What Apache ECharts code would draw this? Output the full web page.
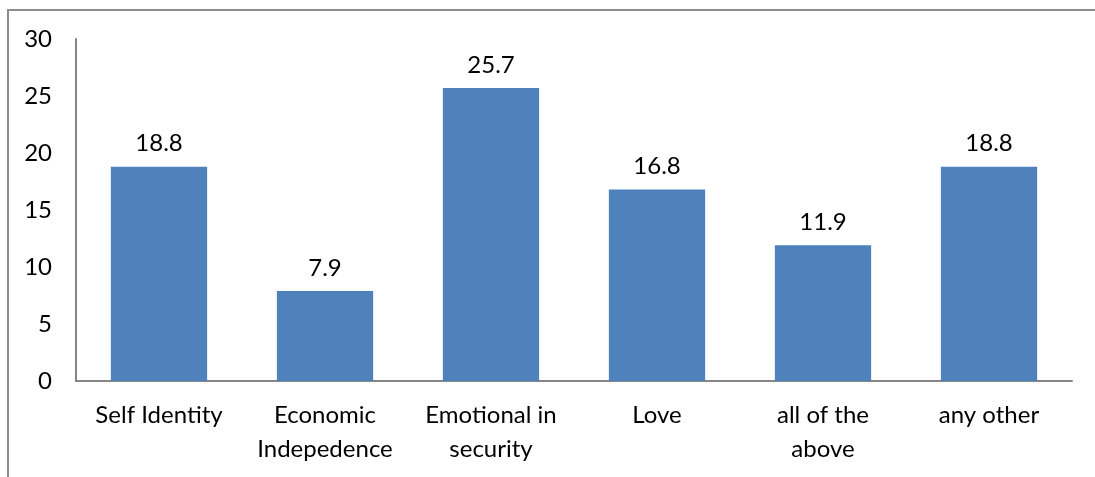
<!DOCTYPE html>
<html>
<head>
<meta charset="utf-8">
<script src="https://cdn.jsdelivr.net/npm/echarts@6/dist/echarts.min.js"></script>
<style>
  html, body { margin: 0; padding: 0; background: #fff; overflow: hidden; }
  #chart { width: 1095px; height: 477px; }
</style>
</head>
<body>
<div id="chart"></div>
<script>
const categories = ["Self Identity", "Economic\nIndepedence", "Emotional in\nsecurity", "Love", "all of the\nabove", "any other"];
const values = [18.8, 7.9, 25.7, 16.8, 11.9, 18.8];
const yTicks = [0, 5, 10, 15, 20, 25, 30];

const font = "Lato, 'Open Sans', sans-serif";
const chart = echarts.init(document.getElementById("chart"));

chart.setOption({
  animation: false,
  // outer chart frame: only its top and left edges fall inside the picture
  graphic: [{
    type: "polyline",
    shape: { points: [[8, 477], [8, 10], [1095, 10]] },
    style: { fill: null, stroke: "#8c8c8c", lineWidth: 2 }
  }],
  grid: { left: 76, right: 23, top: 39, bottom: 96, containLabel: false },
  xAxis: {
    type: "category",
    data: categories,
    axisLine: { lineStyle: { color: "#868686", width: 2 } },
    axisTick: { show: false },
    axisLabel: { color: "#000", fontFamily: font, fontSize: 24, lineHeight: 34, margin: 17, interval: 0 }
  },
  yAxis: {
    type: "value",
    min: yTicks[0],
    max: yTicks[yTicks.length - 1],
    interval: 5,
    axisLine: { show: true, lineStyle: { color: "#868686", width: 2 } },
    axisTick: { show: false },
    splitLine: { show: false },
    axisLabel: { color: "#000", fontFamily: font, fontSize: 24, margin: 24 }
  },
  series: [{
    type: "bar",
    data: values,
    barWidth: "58%",
    itemStyle: { color: "#4f81bd" },
    label: {
      show: true,
      position: "top",
      distance: 11,
      color: "#000",
      fontFamily: font,
      fontSize: 24,
      formatter: (p) => p.value.toFixed(1)
    }
  }]
});
</script>
</body>
</html>
